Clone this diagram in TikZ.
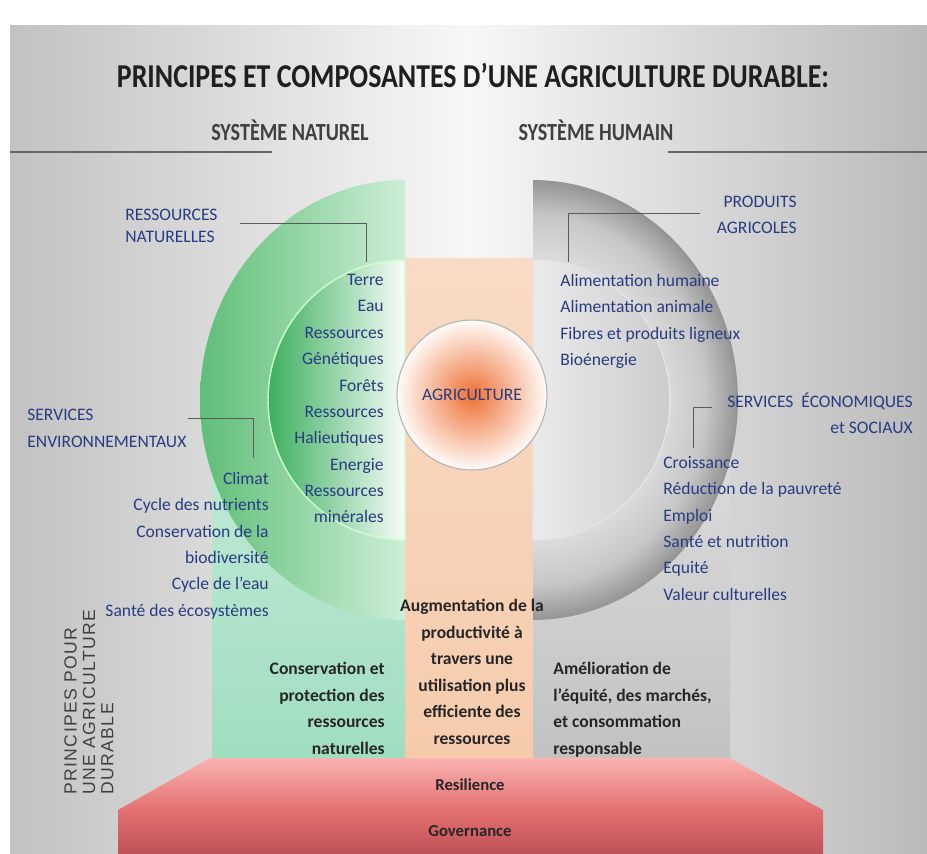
\documentclass[tikz,border=0pt]{standalone}
\usepackage{fontspec}
\usepackage{graphicx}
\setmainfont{Carlito}
\newfontfamily\arialfont{Liberation Sans}
\definecolor{navy}{RGB}{40,60,130}
\definecolor{greenrim}{RGB}{95,190,120}
\definecolor{greenpale}{RGB}{205,238,215}
\definecolor{greendeep}{RGB}{60,175,95}
\definecolor{mint}{RGB}{160,222,192}
\definecolor{peach}{RGB}{246,203,172}
\definecolor{agriorange}{RGB}{238,112,52}
\definecolor{pinktop}{RGB}{250,178,178}
\definecolor{redmid}{RGB}{228,112,112}
\definecolor{reddark}{RGB}{190,82,88}
\pgfdeclareradialshading{grayring}{\pgfpoint{0bp}{0bp}}{color(0bp)=(black!6); color(16bp)=(black!14); color(21bp)=(black!22); color(25bp)=(black!42); color(50bp)=(black!42)}

\begin{document}
\begin{tikzpicture}[x=0.02cm,y=0.02cm,
    bluetxt/.style={text=navy,inner sep=0pt,font=\fontsize{10}{15}\selectfont},
    bluehead/.style={text=navy,inner sep=0pt},
    blacktxt/.style={text=black!85,inner sep=0pt,font=\bfseries\fontsize{10}{15.1}\selectfont},
    systxt/.style={text=black!75,inner sep=0pt,font=\bfseries\fontsize{14}{16}\selectfont},
    conn/.style={draw=black!65,line width=0.5pt}]
    \useasboundingbox (0,0) rectangle (927,-853);
    \fill[white] (0,0) rectangle (927,-853);
    \shade[left color=black!24,right color=black!27,middle color=black!3] (10,-25) rectangle (927,-853);

    % titre
    \node[inner sep=0pt,text=black!88,font=\bfseries\fontsize{19}{21}\selectfont] (title) at (473,-75) {\scalebox{0.835}[1]{PRINCIPES ET COMPOSANTES D’UNE AGRICULTURE DURABLE:}};
    \node[systxt] (natsys) at (290,-130) {\scalebox{0.82}[1]{SYSTÈME NATUREL}};
    \node[systxt] (humsys) at (596,-130) {\scalebox{0.82}[1]{SYSTÈME HUMAIN}};
    \draw[black!60,line width=1.4pt] (10,-152)--(272,-152);
    \draw[black!60,line width=1.4pt] (668,-152)--(927,-152);

    % colonnes
    \shade[top color=mint!60!white,bottom color=mint] (212,-400) rectangle (405,-758);
    \shade[top color=peach!70!white,bottom color=peach] (405,-258) rectangle (533,-758);
    \shade[top color=black!12,bottom color=black!24] (533,-400) rectangle (730,-758);

    % demi-disques
    \shade[left color=greenrim,right color=greenpale] (405,-180) arc[start angle=90,end angle=270,x radius=4.1cm,y radius=4.4cm]--cycle;
    \shade[left color=greendeep,right color=white!85!greenpale,draw=white!80!green,line width=0.8pt] (405,-260) arc[start angle=90,end angle=270,x radius=2.74cm,y radius=2.8cm]--cycle;
    \begin{scope}
        \clip (533,-170) rectangle (760,-630);
        \shade[shading=grayring] (533,-400) ellipse[x radius=4.1cm,y radius=4.4cm];
    \end{scope}
    \shade[left color=black!8,right color=black!20,draw=white!90!black,line width=0.8pt] (533,-260) arc[start angle=90,end angle=-90,x radius=2.74cm,y radius=2.8cm]--cycle;

    \node[circle,minimum size=3cm,draw=black!30,line width=0.6pt,inner color=agriorange,outer color=white!92!peach,bluehead,font=\fontsize{10}{12}\selectfont] (agri) at (472,-395) {AGRICULTURE};

    % socle
    \shade[top color=pinktop,bottom color=redmid] (210,-758)--(730,-758)--(823,-810)--(118,-810)--cycle;
    \shade[top color=redmid,bottom color=reddark] (118,-810) rectangle (823,-853);
    \node[inner sep=0pt,font=\bfseries\fontsize{9.5}{11}\selectfont,text=black!85] (resil) at (470,-785) {Resilience};
    \node[inner sep=0pt,font=\bfseries\fontsize{9.5}{11}\selectfont,text=black!85] (gov) at (470,-831) {Governance};

    % systeme naturel
    \node[bluehead,anchor=north west,align=left,font=\fontsize{10}{12.5}\selectfont] (resnat) at (125,-209) {RESSOURCES\\NATURELLES};
    \node[bluetxt,anchor=north east,align=right] (natlist) at (384,-274) {Terre\\Eau\\Ressources\\Génétiques\\Forêts\\Ressources\\Halieutiques\\Energie\\Ressources\\minérales};
    \coordinate (rn1) at (240,-223);
    \coordinate (rn2) at (366,-262);
    \draw[conn] (rn1) -| (rn2);

    \node[bluehead,anchor=north west,align=left,font=\fontsize{10}{15}\selectfont] (envserv) at (27,-409) {SERVICES\\ENVIRONNEMENTAUX};
    \node[bluetxt,anchor=north east,align=right] (envlist) at (269,-472) {Climat\\Cycle des nutrients\\Conservation de la\\biodiversité\\Cycle de l'eau\\Santé des écosystèmes};
    \coordinate (se1) at (188,-418);
    \coordinate (se2) at (253,-458);
    \draw[conn] (se1) -| (se2);

    % systeme humain
    \node[bluehead,anchor=north east,align=right,font=\fontsize{10}{14.7}\selectfont] (prodagr) at (797,-196) {PRODUITS\\AGRICOLES};
    \node[bluetxt,anchor=north west,align=left] (prodlist) at (560,-274) {Alimentation humaine\\Alimentation animale\\Fibres et produits ligneux\\Bioénergie};
    \coordinate (pa1) at (700,-213);
    \coordinate (pa2) at (568,-262);
    \draw[conn] (pa1) -| (pa2);

    \node[bluehead,anchor=north east,align=right,font=\fontsize{10}{15}\selectfont] (socserv) at (913,-392) {SERVICES \ ÉCONOMIQUES\\et SOCIAUX};
    \node[bluetxt,anchor=north west,align=left] (soclist) at (663,-456) {Croissance\\Réduction de la pauvreté\\Emploi\\Santé et nutrition\\Equité\\Valeur culturelles};
    \coordinate (ss1) at (712,-407);
    \coordinate (ss2) at (693,-448);
    \draw[conn] (ss1) -| (ss2);

    % principes
    \node[blacktxt,anchor=north east,align=right] (conslbl) at (385,-662) {Conservation et\\protection des\\ressources\\naturelles};
    \node[blacktxt,anchor=north,align=center] (prodlbl) at (472,-599) {Augmentation de la\\productivité à\\travers une\\utilisation plus\\efficiente des\\ressources};
    \node[blacktxt,anchor=north west,align=left] (equitlbl) at (553,-662) {Amélioration de\\l'équité, des marchés,\\et consommation\\responsable};
    \node[inner sep=0pt,rotate=90,anchor=south west,align=left,text=black!75,font=\arialfont\fontsize{10}{10.5}\selectfont\addfontfeatures{LetterSpace=8}] (princ) at (114,-795) {PRINCIPES POUR\\UNE AGRICULTURE\\DURABLE};
\end{tikzpicture}
\end{document}
